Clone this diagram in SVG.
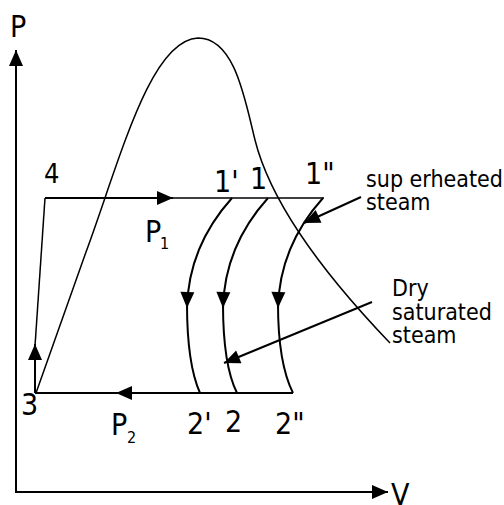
<svg xmlns="http://www.w3.org/2000/svg" width="504" height="505" viewBox="0 0 504 505">
<style>
.ln{fill:none;stroke:#000;stroke-width:2;stroke-linecap:butt}
.thin{fill:none;stroke:#000;stroke-width:1.5}
.t{font-family:"DejaVu Sans Condensed","DejaVu Sans",sans-serif;fill:#000}
.big{font-size:30px}
.lab{font-size:23px}
.sub{font-size:16px}
</style>
<defs>
<marker id="ah" markerUnits="userSpaceOnUse" markerWidth="16" markerHeight="14" refX="16" refY="7" orient="auto" overflow="visible">
<path d="M0,0 L16,7 L0,14 Z" fill="#000"/>
</marker>
</defs>
<rect width="504" height="505" fill="#fff"/>
<g id="axes">
<line class="ln" x1="16" y1="493" x2="16" y2="50" marker-end="url(#ah)"/>
<line class="ln" x1="15" y1="492" x2="388" y2="492" marker-end="url(#ah)"/>
<text class="t big" x="10" y="37">P</text>
<text class="t big" x="391" y="505">V</text>
</g>
<g id="dome">
<path class="thin" d="M36,393 L86,252 C120,160 150,40 198,38 C235,38 245,100 255,140 C270,200 320,270 390,343"/>
</g>
<g id="connectors">
<line class="ln" x1="45" y1="198" x2="173" y2="198" marker-end="url(#ah)"/>
<line class="thin" x1="170" y1="198" x2="324" y2="198"/>
<line class="ln" x1="293" y1="393" x2="116" y2="393" marker-end="url(#ah)"/>
<line class="ln" x1="120" y1="393" x2="35" y2="393"/>
<line class="thin" x1="45" y1="198" x2="35" y2="346"/>
<line class="ln" x1="35" y1="393" x2="35" y2="344" marker-end="url(#ah)"/>
<path class="ln" d="M232,198 C205,228 188,265 187,308" marker-end="url(#ah)"/>
<path class="ln" d="M187,304 C187,345 192,375 200,393"/>
<path class="ln" d="M268,198 C241,228 224,265 223,308" marker-end="url(#ah)"/>
<path class="ln" d="M223,304 C223,345 228,375 237,393"/>
<path class="ln" d="M323,198 C296,228 279,265 278,308" marker-end="url(#ah)"/>
<path class="ln" d="M278,304 C278,345 284,375 293,393"/>
<line class="ln" x1="361" y1="197" x2="304" y2="223" marker-end="url(#ah)"/>
<line class="ln" x1="372" y1="302" x2="224" y2="363" marker-end="url(#ah)"/>
</g>
<g id="labels">
<text class="t big" x="44" y="183" style="font-size:27px">4</text>
<text class="t big" x="214" y="192">1'</text>
<text class="t big" x="250" y="189">1</text>
<text class="t big" x="305" y="184">1"</text>
<text class="t big" x="145" y="242">P</text>
<text class="t sub" x="160" y="249">1</text>
<text class="t big" x="21" y="415">3</text>
<text class="t big" x="111" y="435">P</text>
<text class="t sub" x="127" y="443">2</text>
<text class="t big" x="187" y="434">2'</text>
<text class="t big" x="225" y="432">2</text>
<text class="t big" x="275" y="434">2"</text>
<text class="t lab" x="366" y="187">sup erheated</text>
<text class="t lab" x="366" y="210">steam</text>
<text class="t lab" x="392" y="296">Dry</text>
<text class="t lab" x="392" y="320">saturated</text>
<text class="t lab" x="392" y="343">steam</text>
</g>
</svg>
